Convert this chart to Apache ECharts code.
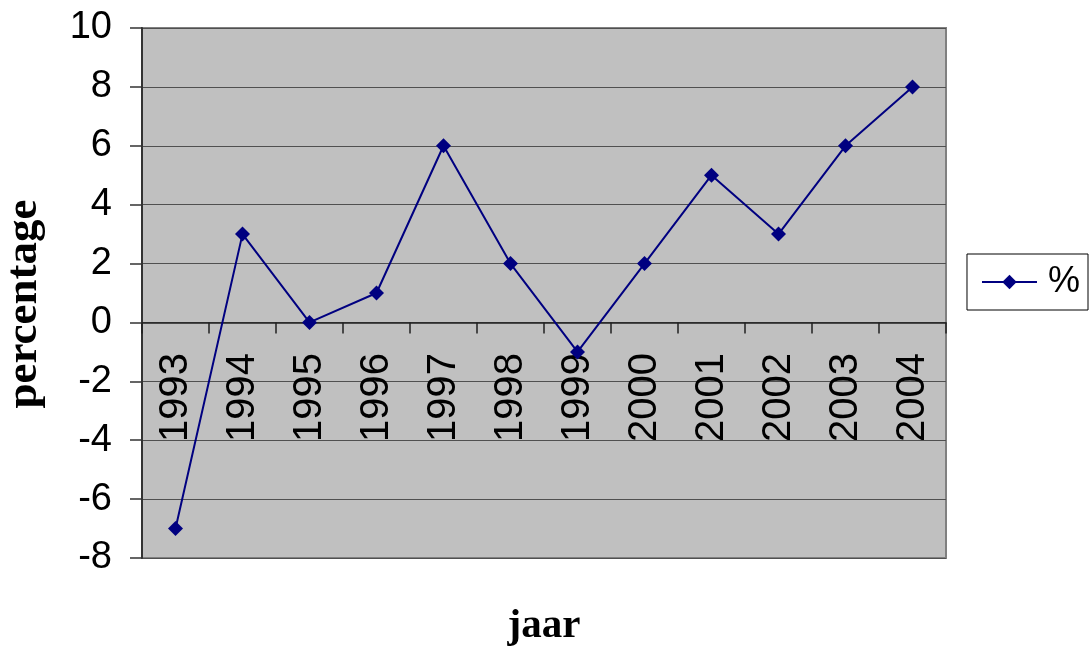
<!DOCTYPE html>
<html>
<head>
<meta charset="utf-8">
<script src="https://cdn.jsdelivr.net/npm/echarts@6/dist/echarts.min.js"></script>
<style>
html,body{margin:0;padding:0;background:#fff;}
#chart{width:1089px;height:650px;}
</style>
</head>
<body>
<div id="chart"></div>
<script>
const categories = ['1993','1994','1995','1996','1997','1998','1999','2000','2001','2002','2003','2004'];
const percentValues = [-7, 3, 0, 1, 6, 2, -1, 2, 5, 3, 6, 8];
const seriesName = '%';
const yTicks = { min: -8, max: 10, interval: 2 };

const chart = echarts.init(document.getElementById('chart'), null, { renderer: 'canvas' });
chart.setOption({
  backgroundColor: '#ffffff',
  animation: false,
  grid: {
    left: 142, right: 143, top: 28, bottom: 92,
    containLabel: false,
    outerBoundsMode: 'none',
    show: true, backgroundColor: '#c0c0c0', borderColor: '#808080', borderWidth: 2
  },
  legend: {
    show: true,
    right: 1, top: 254,
    orient: 'vertical',
    backgroundColor: '#ffffff',
    borderColor: '#000000', borderWidth: 1,
    padding: [10, 8, 10, 14],
    itemWidth: 55, itemHeight: 18, itemGap: 0,
    textStyle: { fontFamily: 'Liberation Sans', fontSize: 36, color: '#000', padding: [0, 0, 0, 6] },
    data: [{ name: seriesName }]
  },
  xAxis: {
    type: 'category',
    data: categories,
    boundaryGap: true,
    name: 'jaar',
    nameLocation: 'middle',
    nameGap: 48,
    nameMoveOverlap: false,
    nameTextStyle: { fontFamily: 'Liberation Serif', fontWeight: 'bold', fontSize: 41, color: '#000' },
    axisLine: { onZero: true, lineStyle: { color: '#202020', width: 1.5 } },
    axisTick: { show: true, inside: false, length: 11, lineStyle: { color: '#202020', width: 1.5 } },
    axisLabel: { interval: 0, rotate: 90, margin: -205, fontFamily: 'Liberation Sans', fontSize: 40, color: '#000' },
    splitLine: { show: false }
  },
  yAxis: {
    type: 'value',
    min: yTicks.min, max: yTicks.max, interval: yTicks.interval,
    name: 'percentage',
    nameLocation: 'middle',
    nameGap: 95,
    nameMoveOverlap: false,
    nameTextStyle: { fontFamily: 'Liberation Serif', fontWeight: 'bold', fontSize: 45, color: '#000', padding: [0, 22, 0, 0] },
    axisLine: { show: true, lineStyle: { color: '#333333', width: 2 } },
    axisTick: { show: true, inside: false, length: 12, lineStyle: { color: '#333333', width: 1.5 } },
    axisLabel: { margin: 30, fontFamily: 'Liberation Sans', fontSize: 38, color: '#000' },
    splitLine: { show: true, lineStyle: { color: '#505050', width: 1 } }
  },
  series: [{
    name: seriesName,
    type: 'line',
    data: percentValues,
    symbol: 'diamond',
    symbolSize: 15,
    itemStyle: { color: '#000080' },
    lineStyle: { color: '#000080', width: 2 }
  }]
});
</script>
</body>
</html>
